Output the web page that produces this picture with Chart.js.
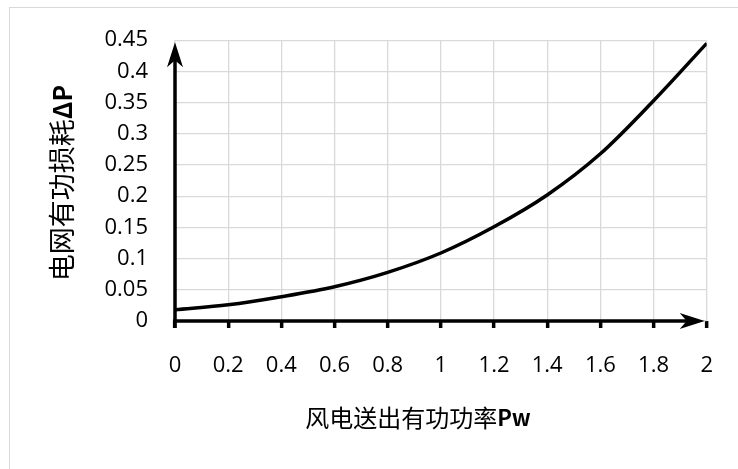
<!DOCTYPE html>
<html>
<head>
<meta charset="utf-8">
<script src="https://cdn.jsdelivr.net/npm/chart.js@4.4.1/dist/chart.umd.min.js"></script>
<style>
  html, body { margin: 0; padding: 0; background: #fff; }
  #wrap { position: relative; width: 738px; height: 469px; }
  #frame { position: absolute; left: 9px; top: 7px; right: 0; bottom: 0; border-left: 1px solid #d9d9d9; border-top: 1px solid #d9d9d9; }
  canvas { position: absolute; left: 0; top: 0; }
</style>
</head>
<body>
<div id="wrap">
  <div id="frame"></div>
  <canvas id="chart" width="738" height="469"></canvas>
</div>
<script>
// ================= DATA =================
const pw = [0, 0.2, 0.4, 0.6, 0.8, 1.0, 1.2, 1.4, 1.6, 1.8, 2.0];
const lossP = [0.018, 0.026, 0.039, 0.055, 0.078, 0.109, 0.151, 0.202, 0.268, 0.353, 0.445];
const xTicks = [0, 0.2, 0.4, 0.6, 0.8, 1, 1.2, 1.4, 1.6, 1.8, 2];
const yTicks = [0, 0.05, 0.1, 0.15, 0.2, 0.25, 0.3, 0.35, 0.4, 0.45];
const xTitle = ["风电送出有功功率", "Pw"];
const yTitle = ["电网有功损耗", "ΔP"];

const tickFont = { family: "'Open Sans', 'Noto Sans', sans-serif", size: 22 };
const cjk = "'Noto Sans CJK SC', 'Noto Sans', sans-serif";

// ================= ARROWS + TITLES =================
function arrow(ctx, x, y, dir) {
    // dir: 'up' or 'right'
    ctx.save();
    ctx.translate(x, y);
    if (dir === "up") ctx.rotate(-Math.PI / 2);
    ctx.beginPath();
    ctx.moveTo(0, 0);
    ctx.lineTo(-25, -8);
    ctx.lineTo(-18, 0);
    ctx.lineTo(-25, 8);
    ctx.closePath();
    ctx.fillStyle = "#000";
    ctx.fill();
    ctx.restore();
}

function mixedText(ctx, parts, cx, cy, size) {
    const f1 = size + "px " + cjk;
    const f2 = "bold " + Math.round(size * 0.92) + "px " + cjk;
    ctx.font = f1;
    let w1 = ctx.measureText(parts[0]).width;
    ctx.font = f2;
    let w2 = ctx.measureText(parts[1]).width;
    let x0 = cx - (w1 + w2) / 2;
    ctx.textBaseline = "middle";
    ctx.textAlign = "left";
    ctx.font = f1;
    ctx.fillText(parts[0], x0, cy);
    ctx.font = f2;
    ctx.fillText(parts[1], x0 + w1, cy);
}

const decor = {
    id: "decor",
    afterDraw(chart) {
        const ctx = chart.ctx;
        const a = chart.chartArea;
        ctx.save();
        ctx.fillStyle = "#000";
        // axis lines
        ctx.strokeStyle = "#000";
        ctx.lineWidth = 3.5;
        ctx.beginPath();
        ctx.moveTo(a.left, a.bottom + 7);
        ctx.lineTo(a.left, a.top + 10);
        ctx.moveTo(a.left - 2, a.bottom);
        ctx.lineTo(a.right - 10, a.bottom);
        ctx.stroke();
        arrow(ctx, a.left, a.top + 2, "up");
        arrow(ctx, a.right - 2, a.bottom, "right");

        mixedText(ctx, xTitle, 418, 418, 24);
        ctx.save();
        ctx.translate(62, 183);
        ctx.rotate(-Math.PI / 2);
        mixedText(ctx, yTitle, 0, 0, 27);
        ctx.restore();
        ctx.restore();
    }
};

// ================= CHART =================
new Chart(document.getElementById("chart"), {
    type: "line",
    data: {
        datasets: [{
            data: pw.map((x, i) => ({ x: x, y: lossP[i] })),
            borderColor: "#000",
            borderWidth: 3.5,
            pointRadius: 0,
            cubicInterpolationMode: "monotone",
            fill: false
        }]
    },
    options: {
        responsive: false,
        animation: false,
        layout: { padding: { left: 0, top: 37, right: 29, bottom: 0 } },
        plugins: { legend: { display: false }, tooltip: { enabled: false } },
        scales: {
            x: {
                type: "linear",
                min: 0,
                max: 2,
                afterFit(s) { s.height = 148; },
                afterBuildTicks(s) { s.ticks = xTicks.map(v => ({ value: v })); },
                grid: {
                    color: "#d9d9d9",
                    lineWidth: 1.3,
                    drawTicks: true,
                    tickLength: 7,
                    tickWidth: 3.5,
                    tickColor: "#000"
                },
                border: { display: false },
                ticks: {
                    color: "#000",
                    font: tickFont,
                    padding: 25,
                    maxRotation: 0,
                    callback: v => String(v)
                }
            },
            y: {
                min: 0,
                max: 0.45,
                afterFit(s) { s.width = 175; },
                afterBuildTicks(s) { s.ticks = yTicks.map(v => ({ value: v })); },
                grid: { color: "#d9d9d9", lineWidth: 1.3, drawTicks: false },
                border: { display: false },
                ticks: {
                    color: "#000",
                    font: tickFont,
                    padding: 27,
                    callback: v => String(v)
                }
            }
        }
    },
    plugins: [decor]
});
</script>
</body>
</html>
